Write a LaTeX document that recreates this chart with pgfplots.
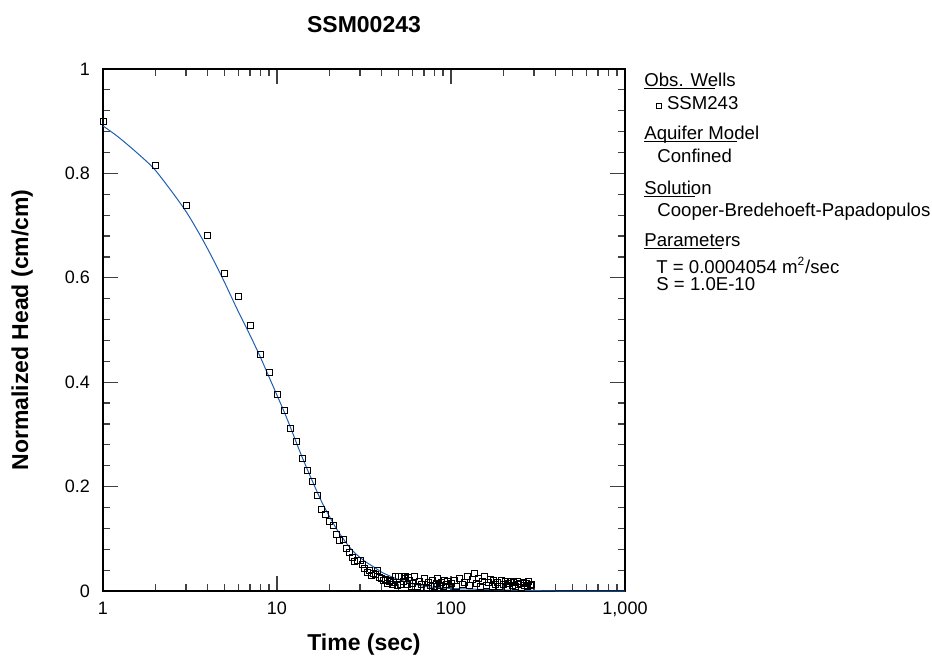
\documentclass[border=0pt]{standalone}
\usepackage{pgfplots}
\pgfplotsset{compat=1.18}
\usepackage{fontspec}
\setmainfont{Liberation Sans}
\definecolor{fitblue}{RGB}{30,95,175}
\begin{document}
\begin{tikzpicture}
\begin{axis}[
  scale only axis, width=261pt, height=261pt,
  xmode=log, xmin=1, xmax=1000, ymin=0, ymax=1,
  xtick={1,10,100,1000}, xticklabels={1,10,100,{1,000}},
  minor xtick={2,3,4,5,6,7,8,9,20,30,40,50,60,70,80,90,200,300,400,500,600,700,800,900},
  ytick={0,0.2,0.4,0.6,0.8,1}, yticklabels={0,0.2,0.4,0.6,0.8,1},
  minor y tick num=4,
  tick align=inside, xtick pos=both, ytick pos=both,
  major tick length=7.5pt, minor tick length=3.5pt,
  axis line style={line width=0.6pt},
  every tick/.style={black!75, line width=0.6pt},
  /pgf/number format/assume math mode=true,
  tick label style={font=\fontsize{9}{10}\selectfont},
  xticklabel style={yshift=-2pt},
  yticklabel style={xshift=-3pt},
  title={\bfseries SSM00243},
  title style={font=\fontsize{11.5}{13}\selectfont, at={(axis description cs:0.5,1)}, anchor=center, yshift=16pt},
  xlabel={\bfseries Time (sec)},
  ylabel={\bfseries Normalized Head (cm/cm)},
  label style={font=\fontsize{11.5}{13}\selectfont},
  x label style={at={(axis description cs:0.5,-0.1034)}, anchor=center},
  y label style={at={(axis description cs:-0.155,0.5)}, anchor=center},
]
% fitted curve
\addplot[fitblue, line width=0.5pt, smooth] coordinates {
(1,0.891) (1.2,0.872) (1.43,0.851) (1.74,0.826) (2,0.806) (2.5,0.764) (3,0.727)
(3.5,0.690) (4,0.655) (4.5,0.622) (5,0.591) (5.6,0.556) (6,0.535) (7,0.490)
(8,0.449) (9,0.410) (10,0.375) (11,0.343) (12,0.312) (13,0.282) (14,0.255)
(16,0.210) (18,0.172) (20,0.143) (22,0.119) (25,0.092) (28,0.073) (32,0.057)
(36,0.046) (40,0.036) (45,0.028) (50,0.022) (60,0.014) (70,0.009) (80,0.007)
(100,0.005) (150,0.003) (200,0.002) (290,0.001) (400,0.0) (1000,0.0)
};
% observed data
\addplot[only marks, mark=square, mark size=1.5pt, mark options={black, line width=0.45pt}] coordinates {
(1,0.900) (2,0.816) (3,0.739) (4,0.681) (5,0.608) (6,0.564) (7,0.508) (8,0.454)
(9,0.418) (10,0.377) (11,0.345) (12,0.312) (13,0.286) (14,0.253) (15,0.231)
(16,0.209) (17,0.184) (18,0.156) (19,0.146) (20,0.133) (21,0.125) (22,0.109)
(23,0.096) (24,0.099) (25,0.082) (26,0.073) (27,0.064) (28,0.056) (29,0.059)
(30,0.058) (31,0.050) (32,0.043) (33,0.036) (34,0.039) (35,0.030) (36,0.034)
(37,0.031) (38,0.039) (39,0.026) (40,0.024) (41,0.020) (42,0.022) (43,0.015)
(44,0.019) (45,0.021) (46,0.013) (47,0.016) (48,0.027) (49,0.010) (50,0.027)
(51,0.013) (52,0.028) (53,0.018) (54,0.024) (55,0.027) (56,0.012) (57,0.026)
(58,0.020) (59,0.009) (60,0.015) (62,0.027) (64,0.008) (66,0.018) (68,0.012)
(70,0.024) (72,0.007) (74,0.016) (76,0.011) (78,0.020) (80,0.009) (82,0.014)
(84,0.025) (86,0.010) (88,0.017) (90,0.008) (92,0.021) (94,0.013) (96,0.018)
(98,0.007) (100,0.015) (104,0.020) (108,0.009) (112,0.024) (116,0.012)
(120,0.017) (124,0.027) (128,0.010) (132,0.022) (136,0.034) (140,0.014)
(144,0.025) (148,0.008) (152,0.019) (156,0.028) (160,0.011) (164,0.016)
(168,0.023) (172,0.009) (176,0.020) (180,0.013) (185,0.017) (190,0.008)
(195,0.021) (200,0.012) (205,0.018) (210,0.007) (215,0.015) (220,0.019)
(225,0.010) (230,0.016) (235,0.008) (240,0.018) (245,0.012) (250,0.015)
(255,0.007) (260,0.017) (265,0.011) (270,0.014) (275,0.008) (280,0.019)
(285,0.010) (290,0.013)
};
\end{axis}
\begin{scope}[every node/.style={anchor=base west, inner sep=0pt, font=\fontsize{9.3}{11}\selectfont}]
\node at ([xshift=9.5pt,yshift=-8.8pt]current axis.north east) {\rlap{\rule[-1.2pt]{35.5pt}{0.5pt}}Obs. Wells};
\node at ([xshift=15.2pt,yshift=-20.3pt]current axis.north east) {\raisebox{0.6pt}{\setlength\fboxsep{0pt}\setlength\fboxrule{0.4pt}\fbox{\rule{0pt}{2.2pt}\hspace{2.2pt}}}\hspace{2.6pt}SSM243};
\node at ([xshift=9.5pt,yshift=-35.3pt]current axis.north east) {\rlap{\rule[-1.2pt]{46.5pt}{0.5pt}}Aquifer Model};
\node at ([xshift=16pt,yshift=-46.8pt]current axis.north east) {Confined};
\node at ([xshift=9.5pt,yshift=-62.8pt]current axis.north east) {\rlap{\rule[-1.2pt]{25.5pt}{0.5pt}}Solution};
\node at ([xshift=16pt,yshift=-73.8pt]current axis.north east) {Cooper-Bredehoeft-Papadopulos};
\node at ([xshift=9.5pt,yshift=-88.8pt]current axis.north east) {\rlap{\rule[-1.2pt]{39pt}{0.5pt}}Parameters};
\node at ([xshift=15.5pt,yshift=-102.3pt]current axis.north east) {T = 0.0004054 m\textsuperscript{\fontsize{6}{7}\selectfont 2}/sec};
\node at ([xshift=15.5pt,yshift=-110.8pt]current axis.north east) {S = 1.0E-10};
\end{scope}
\pgfresetboundingbox
\path (current axis.south west) ++(-51.5pt,-34pt) rectangle ++(466pt,329.5pt);
\end{tikzpicture}
\end{document}
